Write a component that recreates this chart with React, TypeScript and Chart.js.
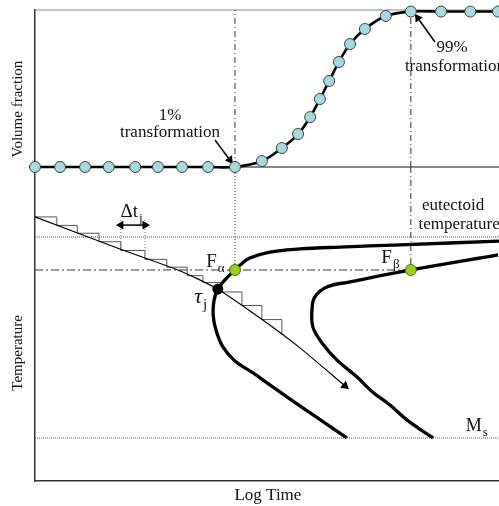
import React, { useEffect, useRef } from "react";
import { Chart, registerables } from "chart.js";
Chart.register(...registerables);

// ---- Upper panel: volume fraction vs log time ----
const volTime = [0, 5.4, 10.8, 15.9, 21.6, 26.5, 31.7, 37.3, 43.1, 48.9, 53.2, 56.7, 59.3, 61.4, 63.4, 65.5, 67.9, 71.1, 75.6, 81.0, 87.5, 93.8, 99.8];
const volFraction = [0, 0, 0, 0, 0, 0, 0, 0, 0, 3.8, 12.1, 21.0, 31.8, 43.3, 54.8, 66.9, 78.3, 87.9, 96.2, 99, 99, 99, 99];

// ---- Lower panel: TTT diagram (temperature vs log time) ----
const startTime = [100, 78.7, 65.7, 57.1, 50.6, 46.3, 44.2, 43.1, 40.9, 39.4, 38.6, 38.4, 39.0, 40.5, 43.1, 47.0, 51.3, 59.3, 67.2];
const startTemp = [76.4, 75.2, 74.5, 73.9, 72.9, 71.0, 68.8, 67.2, 64.0, 61.1, 57.6, 52.9, 48.1, 42.7, 38.2, 34.4, 29.9, 21.7, 13.7];
const finishTime = [99.8, 81.0, 67.9, 62.9, 60.3, 59.7, 59.9, 61.9, 65.1, 69.4, 72.8, 76.5, 80.2, 85.8];
const finishTemp = [72.0, 67.2, 63.4, 61.8, 58.6, 54.5, 49.0, 43.9, 38.5, 33.1, 28.3, 24.2, 19.4, 13.7];
const coolTime = [0, 18.3, 31.3, 39.4, 48.5, 57.1, 66.8];
const coolTemp = [84.1, 73.9, 66.9, 61.1, 51.9, 42.4, 30.3];
const stepTime = [0, 4.7, 9.1, 13.8, 18.5, 23.7, 28.4, 32.8, 36.2, 40.3, 44.6, 48.9, 53.2];
const stepTemp = [84.1, 81.4, 78.9, 76.2, 73.4, 70.6, 68.1, 65.4, 63.2, 60.2, 55.9, 51.4, 46.7];

const eutectoidTemp = 77.7;
const msTemp = 13.7;
const isoTemp = 67.2;
const fAlphaTime = 43.1;
const fBetaTime = 81.0;
const tauTime = 39.4;
const tauTemp = 61.1;
const dtStart = 18.5;
const dtEnd = 23.7;
const dtArrowTemp = 81.5;
const dtTopTemp = 83.1;
const dtBottomTemps = [73.4, 72.9];

// annotation arrows: [fromX, fromY, toX, toY]
const arrow1pct = [38.8, 17.2, 42.0, 4.5];
const arrow99pct = [86.2, 79.6, 82.5, 94.9];

const SERIF = '"Liberation Serif", "Times New Roman", serif';

type Lbl = { text: string; sub?: string; x: number; y: number; axis: string; size: number; italic?: boolean; rotate?: boolean };
const labels: Lbl[] = [
  { text: "1%", x: 29.1, y: 33.1, axis: "yV", size: 17 },
  { text: "transformation", x: 29.1, y: 21.7, axis: "yV", size: 17 },
  { text: "99%", x: 89.9, y: 75.8, axis: "yV", size: 17 },
  { text: "transformation", x: 90.5, y: 63.7, axis: "yV", size: 17 },
  { text: "eutectoid", x: 90.1, y: 87.6, axis: "y", size: 17 },
  { text: "temperature", x: 91.4, y: 81.8, axis: "y", size: 17 },
  { text: "\u0394t", sub: "j", x: 20.8, y: 85.7, axis: "y", size: 19 },
  { text: "F", sub: "\u03b1", x: 38.9, y: 69.7, axis: "y", size: 19 },
  { text: "\u03c4", sub: "j", x: 35.7, y: 58.6, axis: "y", size: 22, italic: true },
  { text: "F", sub: "\u03b2", x: 76.6, y: 71.0, axis: "y", size: 19 },
  { text: "M", sub: "s", x: 95.2, y: 17.5, axis: "y", size: 18 },
  { text: "Volume fraction", x: -3.7, y: 36.9, axis: "yV", size: 15, rotate: true },
  { text: "Temperature", x: -3.7, y: 40.8, axis: "y", size: 15, rotate: true },
  { text: "Log Time", x: 50.2, y: -4.5, axis: "y", size: 17 },
];

const textPlugin = {
  id: "texts",
  afterDatasetsDraw(chart: any) {
    const ctx = chart.ctx;
    ctx.save();
    ctx.fillStyle = "#111";
    ctx.textBaseline = "middle";
    for (const l of labels) {
      const px = chart.scales.x.getPixelForValue(l.x);
      const py = chart.scales[l.axis].getPixelForValue(l.y);
      const mainFont = `${l.italic ? "italic " : ""}${l.size}px ${SERIF}`;
      if (l.rotate) {
        ctx.save();
        ctx.translate(px, py);
        ctx.rotate(-Math.PI / 2);
        ctx.font = mainFont;
        ctx.textAlign = "center";
        ctx.fillText(l.text, 0, 0);
        ctx.restore();
        continue;
      }
      ctx.textAlign = "left";
      ctx.font = mainFont;
      const w1 = ctx.measureText(l.text).width;
      const subSize = Math.round(l.size * 0.7);
      let w2 = 0;
      if (l.sub) {
        ctx.font = `${subSize}px ${SERIF}`;
        w2 = ctx.measureText(l.sub).width + 1;
      }
      const x0 = px - (w1 + w2) / 2;
      ctx.font = mainFont;
      ctx.fillText(l.text, x0, py);
      if (l.sub) {
        ctx.font = `${subSize}px ${SERIF}`;
        ctx.fillText(l.sub, x0 + w1 + 1, py + l.size * 0.35);
      }
    }
    ctx.restore();
  },
};

const pts = (xs: number[], ys: number[]) => xs.map((x, i) => ({ x, y: ys[i] }));

function lineDs(data: any[], axis: string, color: string, width: number, dash: number[] = [], extra: any = {}) {
  return {
    data,
    yAxisID: axis,
    xAxisID: "x",
    borderColor: color,
    borderWidth: width,
    borderDash: dash,
    pointRadius: 0,
    fill: false,
    clip: false,
    tension: 0,
    ...extra,
  };
}

export default function App() {
  const ref = useRef<HTMLCanvasElement>(null);
  useEffect(() => {
    if (!ref.current) return;
    const coolRadius = coolTime.map((_, i) => (i === coolTime.length - 1 ? 4 : 0));
    const coolRot = coolTime.map((_, i) => (i === coolTime.length - 1 ? 130 : 0));
    const datasets: any[] = [
      // points
      lineDs([{ x: tauTime, y: tauTemp }], "y", "#000", 1, [], { showLine: false, pointRadius: 5, pointBackgroundColor: "#000", pointBorderColor: "#000" }),
      lineDs([{ x: fAlphaTime, y: isoTemp }, { x: fBetaTime, y: isoTemp }], "y", "#000", 1, [], { showLine: false, pointRadius: 5.5, pointBackgroundColor: "#9ACD1E", pointBorderColor: "#4d6b0a", pointBorderWidth: 1 }),
      // volume fraction curve with circles
      lineDs(pts(volTime, volFraction), "yV", "#000", 2.6, [], { tension: 0.35, pointRadius: 5.5, pointBackgroundColor: "#A9D9DC", pointBorderColor: "#2b4a4a", pointBorderWidth: 1 }),
      // start / finish curves
      lineDs(pts(startTime, startTemp), "y", "#000", 3.3, [], { tension: 0.4 }),
      lineDs(pts(finishTime, finishTemp), "y", "#000", 3.3, [], { tension: 0.4 }),
      // cooling path with arrow head
      lineDs(pts(coolTime, coolTemp), "y", "#000", 1.2, [], { tension: 0.2, pointRadius: coolRadius, pointStyle: "triangle", pointRotation: coolRot, pointBackgroundColor: "#000", pointBorderColor: "#000" }),
      // staircase (isothermal steps)
      lineDs(pts(stepTime, stepTemp), "y", "#555", 1, [], { stepped: "before" }),
      // delta t
      lineDs([{ x: dtStart, y: dtArrowTemp }, { x: dtEnd, y: dtArrowTemp }], "y", "#000", 1.5, [], { pointRadius: 3.5, pointStyle: "triangle", pointRotation: [-90, 90], pointBackgroundColor: "#000", pointBorderColor: "#000" }),
      lineDs([{ x: dtStart, y: dtTopTemp }, { x: dtStart, y: dtBottomTemps[0] }], "y", "#666", 1, [1, 2]),
      lineDs([{ x: dtEnd, y: dtTopTemp }, { x: dtEnd, y: dtBottomTemps[1] }], "y", "#666", 1, [1, 2]),
      // annotation arrows
      lineDs([{ x: arrow1pct[0], y: arrow1pct[1] }, { x: arrow1pct[2], y: arrow1pct[3] }], "yV", "#000", 1.5, [], { pointRadius: [0, 3.5], pointStyle: "triangle", pointRotation: [0, 144], pointBackgroundColor: "#000", pointBorderColor: "#000" }),
      lineDs([{ x: arrow99pct[0], y: arrow99pct[1] }, { x: arrow99pct[2], y: arrow99pct[3] }], "yV", "#000", 1.5, [], { pointRadius: [0, 3.5], pointStyle: "triangle", pointRotation: [0, -35], pointBackgroundColor: "#000", pointBorderColor: "#000" }),
      // reference lines
      lineDs([{ x: 0, y: eutectoidTemp }, { x: 100, y: eutectoidTemp }], "y", "#888", 1.5, [1, 1]),
      lineDs([{ x: 0, y: isoTemp }, { x: fBetaTime, y: isoTemp }], "y", "#333", 1, [8, 3, 2, 3]),
      lineDs([{ x: 0, y: msTemp }, { x: 100, y: msTemp }], "y", "#777", 1.2, [1, 1]),
      lineDs([{ x: fAlphaTime, y: 0 }, { x: fAlphaTime, y: 100 }], "yV", "#333", 1, [6, 3, 1, 3]),
      lineDs([{ x: fAlphaTime, y: 100 }, { x: fAlphaTime, y: isoTemp }], "y", "#333", 1, [1, 2]),
      lineDs([{ x: fBetaTime, y: 0 }, { x: fBetaTime, y: 100 }], "yV", "#333", 1, [6, 3, 1, 3]),
      lineDs([{ x: fBetaTime, y: 100 }, { x: fBetaTime, y: isoTemp }], "y", "#333", 1, [6, 3, 1, 3]),
      // frame lines of the upper panel
      lineDs([{ x: 0, y: 100 }, { x: 100, y: 100 }], "yV", "#888", 1.2),
      lineDs([{ x: 0, y: 0 }, { x: 100, y: 0 }], "yV", "#111", 1.2),
    ];
    const noTicks = { display: false };
    const noGrid = { display: false, drawTicks: false };
    const chart = new Chart(ref.current, {
      type: "line",
      data: { datasets },
      options: {
        responsive: false,
        devicePixelRatio: 1,
        animation: false,
        events: [],
        layout: { padding: { left: 35, top: 10, right: 0, bottom: 25 }, autoPadding: false },
        plugins: { legend: { display: false }, tooltip: { enabled: false } },
        scales: {
          x: { type: "linear", min: 0, max: 100, ticks: noTicks, grid: noGrid, border: { display: true, color: "#333", width: 1.5 } },
          y: { type: "linear", min: 0, max: 100, position: "left", stack: "panels", stackWeight: 2, ticks: noTicks, grid: noGrid, border: { display: true, color: "#333", width: 1.5 } },
          yV: { type: "linear", min: 0, max: 100, position: "left", stack: "panels", stackWeight: 1, ticks: noTicks, grid: noGrid, border: { display: true, color: "#333", width: 1.5 } },
        },
      } as any,
      plugins: [textPlugin],
    });
    return () => chart.destroy();
  }, []);
  return (
    <div style={{ position: "fixed", left: 0, top: 0, width: 499, height: 506, background: "#fff" }}>
      <canvas ref={ref} width={499} height={506} style={{ display: "block" }} />
    </div>
  );
}
